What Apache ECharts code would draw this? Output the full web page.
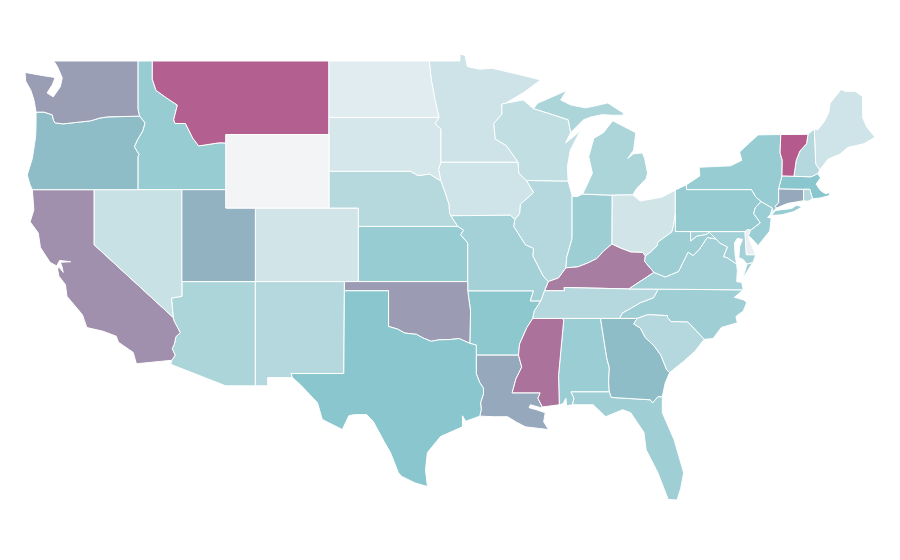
<!DOCTYPE html>
<html><head><meta charset="utf-8">
<style>html,body{margin:0;padding:0;background:#fff}#c{width:900px;height:560px}</style>
<script src="https://cdn.jsdelivr.net/npm/echarts@6/dist/echarts.min.js"></script>
</head><body><div id="c"></div>
<script>
const stateNames=['Alabama','Arizona','Arkansas','California','Colorado','Connecticut','Delaware','Florida','Georgia','Idaho','Illinois','Indiana','Iowa','Kansas','Kentucky','Louisiana','Maine','Maryland','Massachusetts','Michigan','Minnesota','Mississippi','Missouri','Montana','Nebraska','Nevada','New Hampshire','New Jersey','New Mexico','New York','North Carolina','North Dakota','Ohio','Oklahoma','Oregon','Pennsylvania','Rhode Island','South Carolina','South Dakota','Tennessee','Texas','Utah','Vermont','Virginia','Washington','West Virginia','Wisconsin','Wyoming'];
const stateValues=[42,34,48,74,16,63,5,40,54,44,30,41,17,44,82,63,17,38,50,34,18,87,38,96,29,21,30,42,30,44,40,9,16,69,54,45,30,30,14,30,50,59,98,38,68,41,24,0];
const rampColors=['#f3f4f6','#8ac6cd','#b7568a'];

const rev=a=>a.slice().reverse();
// shared borders, [lon,lat]
const columbia=[[-123.95,46.22],[-123.4,46.22],[-122.85,46.07],[-122.75,45.75],[-122.65,45.63],[-122.1,45.58],[-121.2,45.66],[-120.27,45.74],[-119.6,45.9],[-119.05,45.96],[-116.92,46]];
const snake=[[-116.92,46],[-116.55,45.63],[-116.7,45.2],[-117.07,44.7],[-117.27,44.33],[-116.95,43.9],[-117.03,43.8],[-117.03,42]];
const colorado=[[-114.63,35.05],[-114.57,34.85],[-114.15,34.22],[-114.45,34],[-114.55,33.6],[-114.7,33.35],[-114.5,33],[-114.72,32.72]];
const bitterroot=[[-116.05,49],[-116.05,48],[-115.8,47.4],[-115.1,47],[-114.35,46.6],[-114.6,45.8],[-114.5,45.6],[-113.8,45.6],[-113.3,44.8],[-112.9,44.38],[-111.5,44.55],[-111.05,44.54]];
const redN=[[-97.23,49],[-97.1,48],[-96.85,46.9],[-96.57,45.93]];
const sdMn=[[-96.57,45.93],[-96.85,45.6],[-96.45,45.3],[-96.45,43.5]];
const bigSioux=[[-96.45,43.5],[-96.6,43.1],[-96.45,42.49]];
const missouriN=[[-96.45,42.49],[-96.7,42.6],[-97.2,42.85],[-98,42.77],[-98.5,43]];
const missouriIa=[[-96.45,42.49],[-96.1,41.7],[-95.9,41.2],[-95.85,40.7],[-95.77,40.58]];
const missouriKs=[[-95.77,40.58],[-95.3,40]];
const missouriMo=[[-95.3,40],[-94.9,39.8],[-95.1,39.55],[-94.62,39.1],[-94.62,37],[-94.62,36.5]];
const redS=[[-94.48,33.64],[-95.2,33.9],[-95.8,33.85],[-96.6,33.83],[-97.1,33.75],[-97.7,33.95],[-98.1,34.13],[-98.9,34.2],[-99.4,34.42],[-100,34.56]];
const sabine=[[-94.04,31.99],[-93.8,31.5],[-93.55,31.2],[-93.55,30.9],[-93.75,30.4],[-93.7,30.05],[-93.8,29.68]];
const stCroix=[[-92.05,46.7],[-92.3,46.66],[-92.3,46.1],[-92.85,45.6],[-92.75,44.75],[-92,44.4],[-91.2,43.5]];
const missWi=[[-91.2,43.5],[-91.15,42.9],[-90.64,42.5]];
const missIa=[[-90.64,42.5],[-90.15,41.85],[-91.05,41.2],[-91.1,40.7],[-91.42,40.38]];
const missIl=[[-91.42,40.38],[-91.5,40],[-90.7,39],[-90.15,38.8],[-90.2,38.4],[-89.5,37.3],[-89.15,37]];
const missKy=[[-89.15,37],[-89.4,36.5]];
const missTn1=[[-89.4,36.5],[-89.65,35.95]];
const missTn2=[[-89.65,35.95],[-90.1,35.4],[-90.2,35]];
const missAr=[[-90.2,35],[-90.6,34.5],[-91.1,33.6],[-91.17,33]];
const missLa=[[-91.17,33],[-90.95,32.35],[-91.35,31.7],[-91.6,30.95]];
const pearl=[[-89.7,30.95],[-89.85,30.65],[-89.55,30.18]];
const ohioLow=[[-89.15,37],[-88.45,37.2],[-87.95,37.75]];
const ohioIn=[[-87.95,37.75],[-87.15,37.8],[-86.5,38],[-85.85,38.25],[-85.4,38.65],[-84.82,39.05]];
const ohioOh=[[-84.82,39.05],[-84.3,38.85],[-83.55,38.62],[-82.75,38.6],[-82.55,38.4]];
const ohioWv=[[-82.55,38.4],[-82.2,38.6],[-81.75,38.95],[-81.7,39.15],[-80.75,39.7],[-80.65,40],[-80.52,40.64]];
const bigSandy=[[-82.55,38.4],[-82.6,38.1],[-81.97,37.5]];
const wabash=[[-87.95,37.75],[-87.9,38.3],[-87.53,39.35],[-87.53,41.65]];
const gaSc=[[-83.1,35],[-83.35,34.7],[-82.9,34.48],[-82.55,33.95],[-81.95,33.5],[-81.5,33],[-81.1,32.2],[-80.9,32.05]];
const ncSc=[[-83.1,35],[-82.4,35.2],[-81.05,35.15],[-81.05,35.05],[-80.8,34.82],[-79.67,34.8],[-78.55,33.86]];
const tnNc=[[-84.32,35],[-84.1,35.3],[-83.5,35.57],[-82.9,35.85],[-82,36.12],[-81.68,36.59]];
const gaAl=[[-85.6,35],[-85.18,32.87],[-85,32.3],[-85.05,31.55],[-85,31]];
const alMs=[[-88.2,35],[-88.1,34.9],[-88.45,31.9],[-88.4,30.3]];
const delaware=[[-74.7,41.36],[-75.1,41],[-75.2,40.7],[-74.75,40.2],[-75.4,39.8]];
const nyPa=[[-75.35,42],[-75.05,41.6],[-74.7,41.36]];
const vaWv=[[-77.75,39.32],[-78.35,39.4],[-78.87,38.77],[-79.3,38.42],[-79.65,38.6],[-80.3,37.55],[-81.2,37.25],[-81.97,37.5]];
const potomacUp=[[-77.75,39.32],[-78.2,39.67],[-78.45,39.55],[-79.05,39.47],[-79.48,39.2]];
const potomacLow=[[-76.35,37.95],[-77,38.3],[-77.25,38.35],[-76.98,38.88],[-77.5,39.1],[-77.75,39.32]];
const vtNh=[[-71.5,45.01],[-71.6,44.5],[-72.05,44.1],[-72.3,43.6],[-72.46,42.73]];
const nyVt=[[-73.35,45],[-73.4,44],[-73.25,43.6],[-73.27,42.75]];
const nyCt=[[-73.5,42.05],[-73.5,41.3],[-73.73,41.1],[-73.65,41]];
const wiUp=[[-90.15,46.4],[-89.1,46.14],[-87.8,45.8],[-87.63,45.1]];

const shapes={
Washington:[[[-122.75,49],[-117.03,49],[-117.03,46.4],...rev(columbia),[-124.05,46.7],[-124.1,46.9],[-124.3,47.4],[-124.65,47.9],[-124.7,48.38],[-123.45,48.2],[-122.65,48.1],[-122.85,47.7],[-123.2,47.26],[-122.78,47.05],[-122.3,47.6],[-122.17,48.08],[-122.5,48.7]]],
Oregon:[[...columbia,...snake,[-124.2,42],[-124.35,42.25],[-124.55,42.8],[-124.2,43.7],[-123.98,44.87],[-123.95,45.5]]],
California:[[[-124.2,42],[-120,42],[-120,39],...colorado,[-117.13,32.53],[-117.35,33.15],[-118.35,33.7],[-118.5,34.03],[-119.4,34.3],[-120.5,34.5],[-120.8,35.2],[-121.85,36.2],[-121.95,36.83],[-122.4,37.3],[-122.5,37.75],[-122.35,37.75],[-122.1,37.5],[-122.2,37.85],[-122.3,38.05],[-121.6,38.08],[-122.35,38.15],[-122.55,37.85],[-123,38.05],[-123.65,38.85],[-123.8,39.65],[-124.35,40.25],[-124.1,40.9]]],
Nevada:[[[-120,42],[-114.04,42],[-114.04,36.2],[-114.75,36.1],[-114.63,35.05],[-120,39]]],
Idaho:[[[-117.03,49],...bitterroot,[-111.05,42],...rev(snake),[-117.03,46.4]]],
Montana:[[...bitterroot,[-111.05,45],[-104.05,45],[-104.05,49]]],
Wyoming:[[[-111.05,45],[-104.05,45],[-104.05,41],[-111.05,41]]],
Utah:[[[-114.04,42],[-111.05,42],[-111.05,41],[-109.05,41],[-109.05,37],[-114.04,37]]],
Colorado:[[[-109.05,41],[-102.05,41],[-102.05,37],[-109.05,37]]],
Arizona:[[[-114.04,37],[-109.05,37],[-109.05,31.33],[-111.07,31.33],[-114.8,32.5],...rev(colorado),[-114.75,36.1],[-114.04,36.2]]],
'New Mexico':[[[-109.05,37],[-103,37],[-103.04,32],[-106.62,32],[-106.53,31.78],[-108.21,31.78],[-108.21,31.33],[-109.05,31.33]]],
'North Dakota':[[[-104.05,49],...redN,[-104.05,45.93]]],
'South Dakota':[[[-104.05,45.93],...sdMn,...bigSioux,...missouriN,[-104.05,43]]],
Nebraska:[[[-104.05,43],...rev(missouriN),...missouriIa,...missouriKs,[-102.05,40],[-102.05,41],[-104.05,41]]],
Kansas:[[[-102.05,40],...missouriMo.slice(0,5),[-102.05,37]]],
Oklahoma:[[[-103,37],[-94.62,37],[-94.62,36.5],[-94.43,35.4],...redS,[-100,36.5],[-103,36.5]]],
Texas:[[[-103,36.5],[-100,36.5],...rev(redS),[-94.04,33.55],[-94.04,33],...sabine,[-94.75,29.4],[-94.98,29.7],[-94.98,29.1],[-96.47,28.57],[-97.36,27.7],[-97.49,26.77],[-97.36,25.85],[-98.2,26.05],[-99.1,26.4],[-99.33,26.6],[-99.87,27.7],[-100.3,28.3],[-101.03,29.38],[-101.5,29.77],[-102.38,29.76],[-102.7,29.7],[-103.14,28.95],[-104.5,29.5],[-104.83,30.41],[-106,31.4],[-106.53,31.78],[-106.62,32],[-103.04,32]]],
Minnesota:[[[-97.23,49],[-95.15,49],[-95.15,49.38],[-94.8,49.3],[-94.65,48.7],[-93.8,48.55],[-92.95,48.6],[-92.4,48.5],[-90.8,48.2],[-89.67,47.97],[-90.8,47.3],...stCroix,...rev(sdMn),...rev(redN)]],
Iowa:[[[-96.45,43.5],[-91.2,43.5],...missWi,...missIa,[-91.73,40.61],[-95.77,40.58],...rev(missouriIa),...rev(bigSioux)]],
Missouri:[[[-95.77,40.58],[-91.73,40.61],...missIl,...missKy,...missTn1,[-90.37,35.95],[-90.15,36.5],[-94.62,36.5],...rev(missouriMo).slice(1),...rev(missouriKs).slice(0,1)]],
Arkansas:[[[-94.62,36.5],[-90.15,36.5],[-90.37,35.95],...missTn2,...missAr,[-94.04,33],[-94.04,33.55],[-94.48,33.64],[-94.43,35.4]]],
Louisiana:[[[-94.04,33],...missLa,...pearl,[-89.67,30.14],[-90.36,30.3],[-90.45,30.14],[-89.95,30.03],[-89.35,29.87],[-89.46,29.38],[-89.13,28.95],[-90.7,29.1],[-91.3,29.35],[-91.92,29.65],[-92.8,29.65],...rev(sabine)]],
Wisconsin:[[[-92.05,46.7],[-90.85,46.88],...wiUp,[-87.97,44.55],[-87.4,44.9],[-86.95,45.25],[-87.65,44.15],[-87.85,43.25],[-87.8,42.47],[-90.64,42.5],...rev(missWi),...rev(stCroix)]],
Illinois:[[[-90.64,42.5],[-87.8,42.47],[-87.55,41.75],...rev(wabash),...rev(ohioLow),...rev(missIl),...rev(missIa)]],
Indiana:[[[-87.53,41.65],[-87.2,41.62],[-86.82,41.76],[-84.8,41.7],[-84.82,39.05],...rev(ohioIn),...wabash]],
Ohio:[[[-84.8,41.7],[-83.4,41.72],[-82.9,41.38],[-81.4,41.6],[-80.52,41.98],...rev(ohioWv),...rev(ohioOh)]],
Kentucky:[[[-89.4,36.5],...rev(missKy),...ohioLow,...ohioIn,...ohioOh,...bigSandy,[-83.68,36.6],[-88.07,36.68],[-88.05,36.5]]],
Tennessee:[[[-90.2,35],...rev(missTn2),...rev(missTn1).slice(0,1),[-89.4,36.5],[-88.05,36.5],[-88.07,36.68],[-83.68,36.6],...rev(tnNc)]],
Mississippi:[[...rev(missLa),...rev(missAr),[-88.2,35],...alMs,[-89.55,30.18],...rev(pearl),[-91.6,30.95]]],
Alabama:[[[-88.2,35],...gaAl,[-87.6,31],[-87.4,30.65],[-87.5,30.3],[-87.9,30.25],[-87.95,30.65],[-88.15,30.35],...rev(alMs)]],
Georgia:[[...gaSc,[-81.2,31.5],[-81.4,30.74],[-81.7,30.74],[-82.07,30.4],[-82.2,30.57],[-84.86,30.7],...rev(gaAl)]],
Florida:[[[-87.6,31],[-85,31],[-84.86,30.7],[-82.2,30.57],[-82.07,30.4],[-81.7,30.74],[-81.4,30.74],[-81.4,29.87],[-80.6,28.4],[-80.2,27.3],[-79.95,26.6],[-80.15,25.75],[-80.4,25.12],[-81,25.15],[-81.7,26.6],[-82.5,27.85],[-82.65,28.8],[-83.55,29.87],[-84.1,30.03],[-85.25,29.65],[-86.1,30.3],[-87.5,30.3],[-87.4,30.65]]],
'South Carolina':[[...gaSc,[-79.9,32.7],[-79.2,33.2],...rev(ncSc)]],
'North Carolina':[[...tnNc,[-75.9,36.55],[-76.5,36.15],[-75.85,36],[-75.67,35.85],[-75.9,35.4],[-76.4,35.1],[-76.3,34.76],[-77.4,34.5],[-77.95,33.9],...rev(ncSc)]],
Virginia:[[[-83.68,36.6],[-81.68,36.59],[-75.9,36.55],[-76,36.95],[-76.35,37],[-76.3,37.6],...potomacLow,...vaWv],[[-75.25,38.03],[-75.65,37.95],[-75.95,37.15],[-75.6,37.6]]],
'West Virginia':[[[-80.52,40.64],[-80.52,39.72],[-79.48,39.72],...rev(potomacUp),...vaWv,...rev(bigSandy),...ohioWv]],
Maryland:[[[-79.48,39.72],[-75.79,39.72],[-75.7,38.46],[-75.05,38.45],[-75.25,38.03],[-75.65,37.95],[-75.9,38.2],[-76.2,38.3],[-76.15,38.9],[-75.95,39.3],[-76.3,39.35],[-76.5,39.1],[-76.45,38.4],...potomacLow,...potomacUp]],
Delaware:[[[-75.79,39.72],[-75.6,39.84],[-75.4,39.8],[-75.55,39.5],[-75.4,39.1],[-75.05,38.45],[-75.7,38.46]]],
Pennsylvania:[[[-80.52,41.98],[-79.76,42.27],[-79.76,42],...nyPa,...delaware,[-75.6,39.84],[-75.79,39.72],[-80.52,39.72]]],
'New Jersey':[[[-74.7,41.36],[-73.92,41],[-74.05,40.65],[-74.25,40.5],[-74,40.45],[-74.1,39.75],[-74.9,38.95],[-75.15,39.2],[-75.55,39.5],...rev(delaware)]],
'New York':[[[-79.76,42],[-79.76,42.27],[-78.85,42.75],[-78.9,43.22],[-77.5,43.27],[-76.75,43.3],[-76,43.6],[-76.15,44.05],[-74.9,44.98],...nyVt,...nyCt,[-73.95,40.75],[-73.92,41],...rev(nyPa)],[[-74,40.6],[-73.7,40.87],[-72.6,40.98],[-72.3,41.15],[-71.87,41.07],[-72.5,40.8],[-73.3,40.63]]],
Connecticut:[[...nyCt,[-72.9,41.25],[-71.8,41.4],[-71.8,42.02]]],
'Rhode Island':[[[-71.8,42.02],[-71.38,42.02],[-71.2,41.5],[-71.5,41.37],[-71.8,41.4]]],
Massachusetts:[[[-73.27,42.75],[-72.46,42.73],[-71.3,42.7],[-70.85,42.87],[-70.65,42.65],[-70.95,42.3],[-70.65,41.95],[-70.3,41.78],[-70.05,41.85],[-70.05,41.68],[-70.65,41.55],[-71.2,41.5],[-71.38,42.02],[-71.8,42.02],[-73.5,42.05]]],
Vermont:[[...vtNh,...rev(nyVt)]],
'New Hampshire':[[[-71.5,45.01],[-71.08,45.3],[-70.98,43.4],[-70.7,43.07],[-70.85,42.87],[-71.3,42.7],...rev(vtNh)]],
Maine:[[[-71.08,45.3],[-70.85,45.25],[-70.4,45.7],[-70.1,46.17],[-70,46.7],[-69.25,47.45],[-69,47.35],[-68.3,47.35],[-67.8,47.07],[-67.78,45.9],[-67.5,45.4],[-66.95,44.85],[-67.7,44.5],[-68.8,44.3],[-69.3,43.95],[-70.15,43.65],[-70.7,43.07],[-70.98,43.4]]],
Michigan:[[[-86.82,41.76],[-84.8,41.7],[-83.4,41.72],[-83.15,42.05],[-82.5,42.6],[-82.4,42.9],[-82.6,43.7],[-82.75,44],[-83.35,43.95],[-83.75,43.7],[-83.35,44.15],[-83.2,45.1],[-84.77,45.75],[-85.4,45.1],[-86.05,44.8],[-86.4,43.8],[-86.15,42.9],[-86.55,42.2]],[...wiUp,[-86.75,45.8],[-86.27,45.95],[-85.5,46.08],[-84.8,46.05],[-84,46.05],[-84.1,46.2],[-84.6,46.45],[-85.1,46.72],[-86,46.55],[-86.6,46.45],[-87.6,46.6],[-88.3,46.88],[-87.9,47.4],[-88.45,47.2],[-89.88,46.7]]]
};

const features=stateNames.map(n=>({type:'Feature',properties:{name:n},geometry:{type:'MultiPolygon',coordinates:shapes[n].map(r=>[[...r,r[0]]])}}));
echarts.registerMap('usa',{type:'FeatureCollection',features});
const chart=echarts.init(document.getElementById('c'),null,{renderer:'canvas'});
chart.setOption({
  animation:false,
  backgroundColor:'#fff',
  visualMap:{show:false,min:0,max:100,inRange:{color:rampColors}},
  series:[{type:'map',map:'usa',roam:false,aspectScale:0.8,left:25,top:54,width:850,height:446,silent:true,
    label:{show:false},
    itemStyle:{borderColor:'#fff',borderWidth:1},
    data:stateNames.map((n,i)=>({name:n,value:stateValues[i]}))}]
});
</script></body></html>
